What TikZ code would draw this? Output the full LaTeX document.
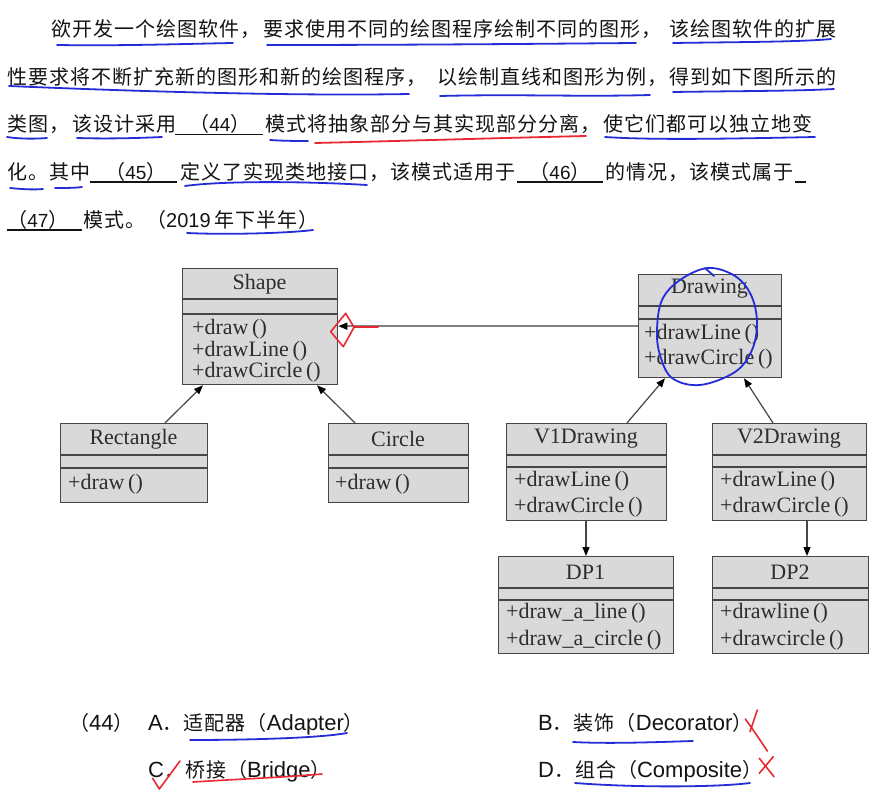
\documentclass[tikz,border=0pt]{standalone}
\usepackage{fontspec}
\setmainfont{Liberation Serif}
\newfontfamily\cjk[LetterSpace=5]{Noto Sans CJK SC}
\newfontfamily\arfont{Liberation Sans}
\newfontfamily\tmfont{Liberation Serif}
\usetikzlibrary{arrows.meta,calc}
\definecolor{ink}{RGB}{20,20,20}
\definecolor{boxfill}{RGB}{217,217,217}
\definecolor{boxline}{RGB}{70,70,70}
\definecolor{boxtext}{RGB}{45,45,45}
\definecolor{pen}{RGB}{35,45,215}
\definecolor{redpen}{RGB}{232,40,50}
\newcommand\dg[1]{{\arfont\fontsize{19}{24}\selectfont #1}}
\newcommand\lat[1]{{\arfont\fontsize{22}{24}\selectfont #1}}
\begin{document}
\begin{tikzpicture}[x=1pt,y=-1pt,
  txt/.style={anchor=base west, inner sep=0pt, text=ink, font=\cjk\fontsize{20}{24}\selectfont},
  blanktxt/.style={anchor=base, inner sep=0pt, text=ink, font=\cjk\fontsize{20}{24}\selectfont},
  blankline/.style={draw=ink, line width=1.3pt},
  umlbox/.style={draw=boxline, fill=boxfill, line width=1.3pt, anchor=north west, inner sep=0pt},
  divider/.style={draw=boxline, line width=1.2pt},
  umltitle/.style={anchor=center, inner sep=0pt, text=boxtext, font=\tmfont\fontsize{22}{24}\selectfont},
  umlop/.style={anchor=west, inner sep=0pt, text=boxtext, font=\tmfont\fontsize{22}{24}\selectfont},
  gen/.style={draw=boxline, line width=1.2pt, -{Triangle[length=9pt,width=7pt,color=black]}},
  assoc/.style={draw=black!50, line width=1.4pt, -{Triangle[length=9pt,width=7pt,color=black]}},
  bluepen/.style={draw=pen, line width=1.8pt, line cap=round, line join=round},
  redmark/.style={draw=redpen, line width=1.6pt, line cap=round, line join=round},
]
\fill[white] (0,0) rectangle (887,797);
\useasboundingbox (0,0) rectangle (887,797);

% ---------- question text ----------
\node[txt] (l1a) at (51,37) {欲开发一个绘图软件，};
\node[txt] (l1b) at (263,37) {要求使用不同的绘图程序绘制不同的图形，};
\node[txt] (l1c) at (669,37) {该绘图软件的扩展};

\node[txt] (l2a) at (7,84.5) {性要求将不断扩充新的图形和新的绘图程序，};
\node[txt] (l2b) at (437,84.5) {以绘制直线和图形为例，};
\node[txt] (l2c) at (669,84.5) {得到如下图所示的};

\node[txt] (l3a) at (7,132) {类图，};
\node[txt] (l3b) at (72,132) {该设计采用};
\draw[blankline] (175,134.5) -- (263,134.5);
\node[blanktxt] (b44) at (220,132) {（\dg{44}）};
\node[txt] (l3c) at (265,132) {模式将抽象部分与其实现部分分离，};
\node[txt] (l3d) at (603,132) {使它们都可以独立地变};

\node[txt] (l4a) at (7,179.5) {化。其中};
\draw[blankline] (90,182) -- (177,182);
\node[blanktxt] (b45) at (136,179.5) {（\dg{45}）};
\node[txt] (l4b) at (180,179.5) {定义了实现类地接口，该模式适用于};
\draw[blankline] (517,182) -- (603,182);
\node[blanktxt] (b46) at (560,179.5) {（\dg{46}）};
\node[txt] (l4c) at (605,179.5) {的情况，该模式属于};
\draw[blankline] (795,182) -- (806,182);

\draw[blankline] (7,230) -- (82,230);
\node[blanktxt] (b47) at (38,227.5) {（\dg{47}）};
\node[txt] (l5a) at (83,227.5) {模式。（{\arfont\fontsize{20}{24}\selectfont 2019}\,年下半年）};

% ---------- UML boxes ----------
% Shape
\node[umlbox, minimum width=155pt, minimum height=116pt] (shape) at (182,268) {};
\draw[divider] (182,299) -- (337,299);
\draw[divider] (182,314) -- (337,314);
\node[umltitle] (shapeT) at (259.5,284) {Shape};
\node[umlop] (shapeO1) at (192,329) {+draw\,()};
\node[umlop] (shapeO2) at (192,351) {+drawLine\,()};
\node[umlop] (shapeO3) at (192,372) {+drawCircle\,()};

% Drawing
\node[umlbox, minimum width=143pt, minimum height=103pt] (drawing) at (638,274) {};
\draw[divider] (638,306) -- (781,306);
\draw[divider] (638,319) -- (781,319);
\node[umltitle] (drawingT) at (709.5,289) {Drawing};
\node[umlop] (drawingO1) at (644,334) {+drawLine\,()};
\node[umlop] (drawingO2) at (644,359) {+drawCircle\,()};

% Rectangle
\node[umlbox, minimum width=147pt, minimum height=79pt] (rect) at (60,423) {};
\draw[divider] (60,455) -- (207,455);
\draw[divider] (60,468) -- (207,468);
\node[umltitle] (rectT) at (133.5,439) {Rectangle};
\node[umlop] (rectO1) at (68,484) {+draw\,()};

% Circle
\node[umlbox, minimum width=140pt, minimum height=79pt] (circ) at (328,423) {};
\draw[divider] (328,455) -- (468,455);
\draw[divider] (328,468) -- (468,468);
\node[umltitle] (circT) at (398,439) {Circle};
\node[umlop] (circO1) at (335,484) {+draw\,()};

% V1Drawing
\node[umlbox, minimum width=160pt, minimum height=97pt] (v1) at (506,423) {};
\draw[divider] (506,455) -- (666,455);
\draw[divider] (506,467) -- (666,467);
\node[umltitle] (v1T) at (586,439) {V1Drawing};
\node[umlop] (v1O1) at (514,481) {+drawLine\,()};
\node[umlop] (v1O2) at (514,507) {+drawCircle\,()};

% V2Drawing
\node[umlbox, minimum width=154pt, minimum height=97pt] (v2) at (712,423) {};
\draw[divider] (712,455) -- (866,455);
\draw[divider] (712,467) -- (866,467);
\node[umltitle] (v2T) at (789,439) {V2Drawing};
\node[umlop] (v2O1) at (720,481) {+drawLine\,()};
\node[umlop] (v2O2) at (720,507) {+drawCircle\,()};

% DP1
\node[umlbox, minimum width=175pt, minimum height=97pt] (dp1) at (498,556) {};
\draw[divider] (498,588) -- (673,588);
\draw[divider] (498,600) -- (673,600);
\node[umltitle] (dp1T) at (585.5,572) {DP1};
\node[umlop] (dp1O1) at (506,613) {+draw\_a\_line\,()};
\node[umlop] (dp1O2) at (506,640) {+draw\_a\_circle\,()};

% DP2
\node[umlbox, minimum width=156pt, minimum height=97pt] (dp2) at (712,556) {};
\draw[divider] (712,588) -- (868,588);
\draw[divider] (712,600) -- (868,600);
\node[umltitle] (dp2T) at (790,572) {DP2};
\node[umlop] (dp2O1) at (720,613) {+drawline\,()};
\node[umlop] (dp2O2) at (720,640) {+drawcircle\,()};

% ---------- connectors ----------
\draw[gen] ([xshift=105pt]rect.north west) -- ([xshift=21pt]shape.south west);
\draw[gen] ([xshift=27pt]circ.north west) -- ([xshift=135pt]shape.south west);
\draw[gen] ([xshift=121pt]v1.north west) -- ([xshift=27pt]drawing.south west);
\draw[gen] ([xshift=61pt]v2.north west) -- ([xshift=106pt]drawing.south west);
\draw[gen] ([xshift=80pt]v1.south west) -- ([xshift=88pt]dp1.north west);
\draw[gen] ([xshift=95pt]v2.south west) -- ([xshift=95pt]dp2.north west);
\draw[assoc] (drawing.west) -- (shape.east |- drawing.west);

% ---------- options ----------
\node[txt] (q44) at (69,730.5) {（\lat{44}）};
\node[txt] (optA) at (148,730.5) {\lat{A}．适配器（\lat{Adapter}）};
\node[txt] (optB) at (538,730.5) {\lat{B}．装饰（\lat{Decorator}）};
\node[txt] (optC) at (148,777.5) {\lat{C}．桥接（\lat{Bridge}）};
\node[txt] (optD) at (538,777.5) {\lat{D}．组合（\lat{Composite}）};

% ---------- hand-drawn annotations ----------
% blue underlines
\draw[bluepen] (57,45) .. controls (120,46) and (180,44) .. (233,43);
\draw[bluepen] (267,45) .. controls (400,45) and (520,44) .. (636,43);
\draw[bluepen] (673,43) .. controls (740,42) and (800,42) .. (831,39);
\draw[bluepen] (9,86) .. controls (150,92) and (300,96) .. (409,94);
\draw[bluepen] (440,96) .. controls (520,94) and (580,97) .. (650,95);
\draw[bluepen] (673,92) .. controls (740,91) and (800,91) .. (834,89);
\draw[bluepen] (7,137) .. controls (20,139) and (35,139) .. (47,138);
\draw[bluepen] (77,138) .. controls (110,139) and (140,138) .. (162,137);
\draw[bluepen] (270,140) .. controls (285,141) and (298,141) .. (308,141);
\draw[bluepen] (605,137) .. controls (650,140) and (720,139) .. (815,137);
\draw[bluepen] (10,188) .. controls (20,189) and (33,190) .. (43,189);
\draw[bluepen] (55,188) .. controls (65,188) and (75,188) .. (82,187);
\draw[bluepen] (185,186) .. controls (220,181) and (300,181) .. (367,185);
\draw[bluepen] (187,233) .. controls (230,235) and (290,233) .. (313,230);
\draw[bluepen] (190,740) .. controls (250,740) and (320,738) .. (347,733);
\draw[bluepen] (573,742) .. controls (610,744) and (660,742) .. (693,741);
\draw[bluepen] (575,783) .. controls (640,788) and (720,787) .. (750,783);
% red underline
\draw[redmark, line width=1.8pt] (315,143) .. controls (400,141) and (500,138) .. (586,136);
% blue circle around Drawing
\draw[bluepen] plot[smooth cycle, tension=0.6] coordinates {(708,268) (735,276) (751,295) (757,322) (752,350) (735,372) (700,385) (672,378) (660,355) (657,330) (662,300) (680,280)};
\draw[bluepen] (705,268) -- (714,276);
% red diamond on arrow head
\draw[redmark] (330.7,331.7) -- (345.7,313.3) -- (354,327.3) -- (343.3,346.7) -- cycle;
\draw[redmark, line width=2pt] (354,326.5) -- (378,326.5);
% red check on C, red crosses
\draw[redmark] (152.7,778.3) -- (159.3,789) -- (180,761);
\draw[redmark] (193,782) .. controls (240,779) and (290,777) .. (322,774);
\draw[redmark] (745.3,719) .. controls (752,728) and (760,740) .. (767.3,751);
\draw[redmark] (757.3,710) -- (750,731.7);
\draw[redmark] (759.3,758.3) -- (774,776.7);
\draw[redmark] (773.3,756.7) -- (759.3,773.3);
\end{tikzpicture}
\end{document}
